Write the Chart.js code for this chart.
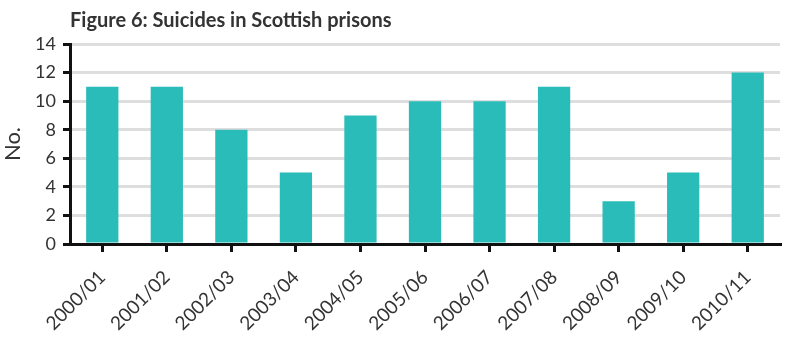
<!DOCTYPE html>
<html>
<head>
<meta charset="utf-8">
<script src="https://cdn.jsdelivr.net/npm/chart.js@4/dist/chart.umd.min.js"></script>
<style>
  html, body { margin: 0; padding: 0; background: #fff; }
  #wrap { width: 800px; height: 347px; }
</style>
</head>
<body>
<div id="wrap"><canvas id="grafica"></canvas></div>
<script>
const years = ['2000/01', '2001/02', '2002/03', '2003/04', '2004/05', '2005/06',
  '2006/07', '2007/08', '2008/09', '2009/10', '2010/11'];
const suicides = [11, 11, 8, 5, 9, 10, 10, 11, 3, 5, 12];
const yTicks = [0, 2, 4, 6, 8, 10, 12, 14];

const titulo = 'Figure 6: Suicides in Scottish prisons';

// wider letter spacing for the axis labels
const espaciado = {
  id: 'espaciado',
  beforeInit(chart) {
    chart.ctx.letterSpacing = '1.5px';
  }
};

// title drawn flush with the left edge of the plot area
const tituloPlugin = {
  id: 'tituloPlugin',
  afterDraw(chart) {
    const ctx = chart.ctx;
    ctx.save();
    ctx.letterSpacing = '0px';
    ctx.font = 'bold 20px Lato, sans-serif';
    ctx.fillStyle = '#333';
    ctx.textBaseline = 'alphabetic';
    ctx.fillText(titulo, chart.chartArea.left, 27);
    ctx.restore();
  }
};

const config = {
  type: 'bar',
  data: {
    labels: years,
    datasets: [{
      label: 'No.',
      data: suicides,
      backgroundColor: '#2abcb9',
      borderWidth: 0,
      barPercentage: 0.5,
      categoryPercentage: 1
    }]
  },
  options: {
    responsive: true,
    maintainAspectRatio: false,
    animation: false,
    layout: { padding: { top: 44, right: 20, left: 0, bottom: 0 } },
    plugins: {
      legend: { display: false },
      tooltip: { enabled: false }
    },
    scales: {
      x: {
        offset: true,
        afterFit(axis) { axis.height = 103; },
        grid: {
          drawOnChartArea: false,
          drawTicks: true,
          tickLength: 8,
          tickColor: '#111',
          lineWidth: 3,
          offset: false
        },
        border: { color: '#111', width: 3 },
        ticks: {
          minRotation: 45,
          maxRotation: 45,
          color: '#333',
          font: { family: 'Lato, sans-serif', size: 19 },
          padding: 14
        }
      },
      y: {
        min: 0,
        max: 14,
        afterFit(axis) { axis.width = 70; },
        afterBuildTicks(axis) {
          axis.ticks = yTicks.map(v => ({ value: v }));
        },
        grid: {
          color: '#dedede',
          lineWidth: 3,
          tickColor: '#111',
          tickLength: 7
        },
        border: { color: '#111', width: 3 },
        ticks: {
          color: '#333',
          font: { family: 'Lato, sans-serif', size: 18 },
          padding: 7
        },
        title: {
          display: true,
          text: 'No.',
          color: '#333',
          font: { family: 'Lato, sans-serif', size: 22 },
          padding: { top: 0, bottom: 4 }
        }
      }
    }
  },
  plugins: [espaciado, tituloPlugin]
};

new Chart(document.getElementById('grafica'), config);
</script>
</body>
</html>
